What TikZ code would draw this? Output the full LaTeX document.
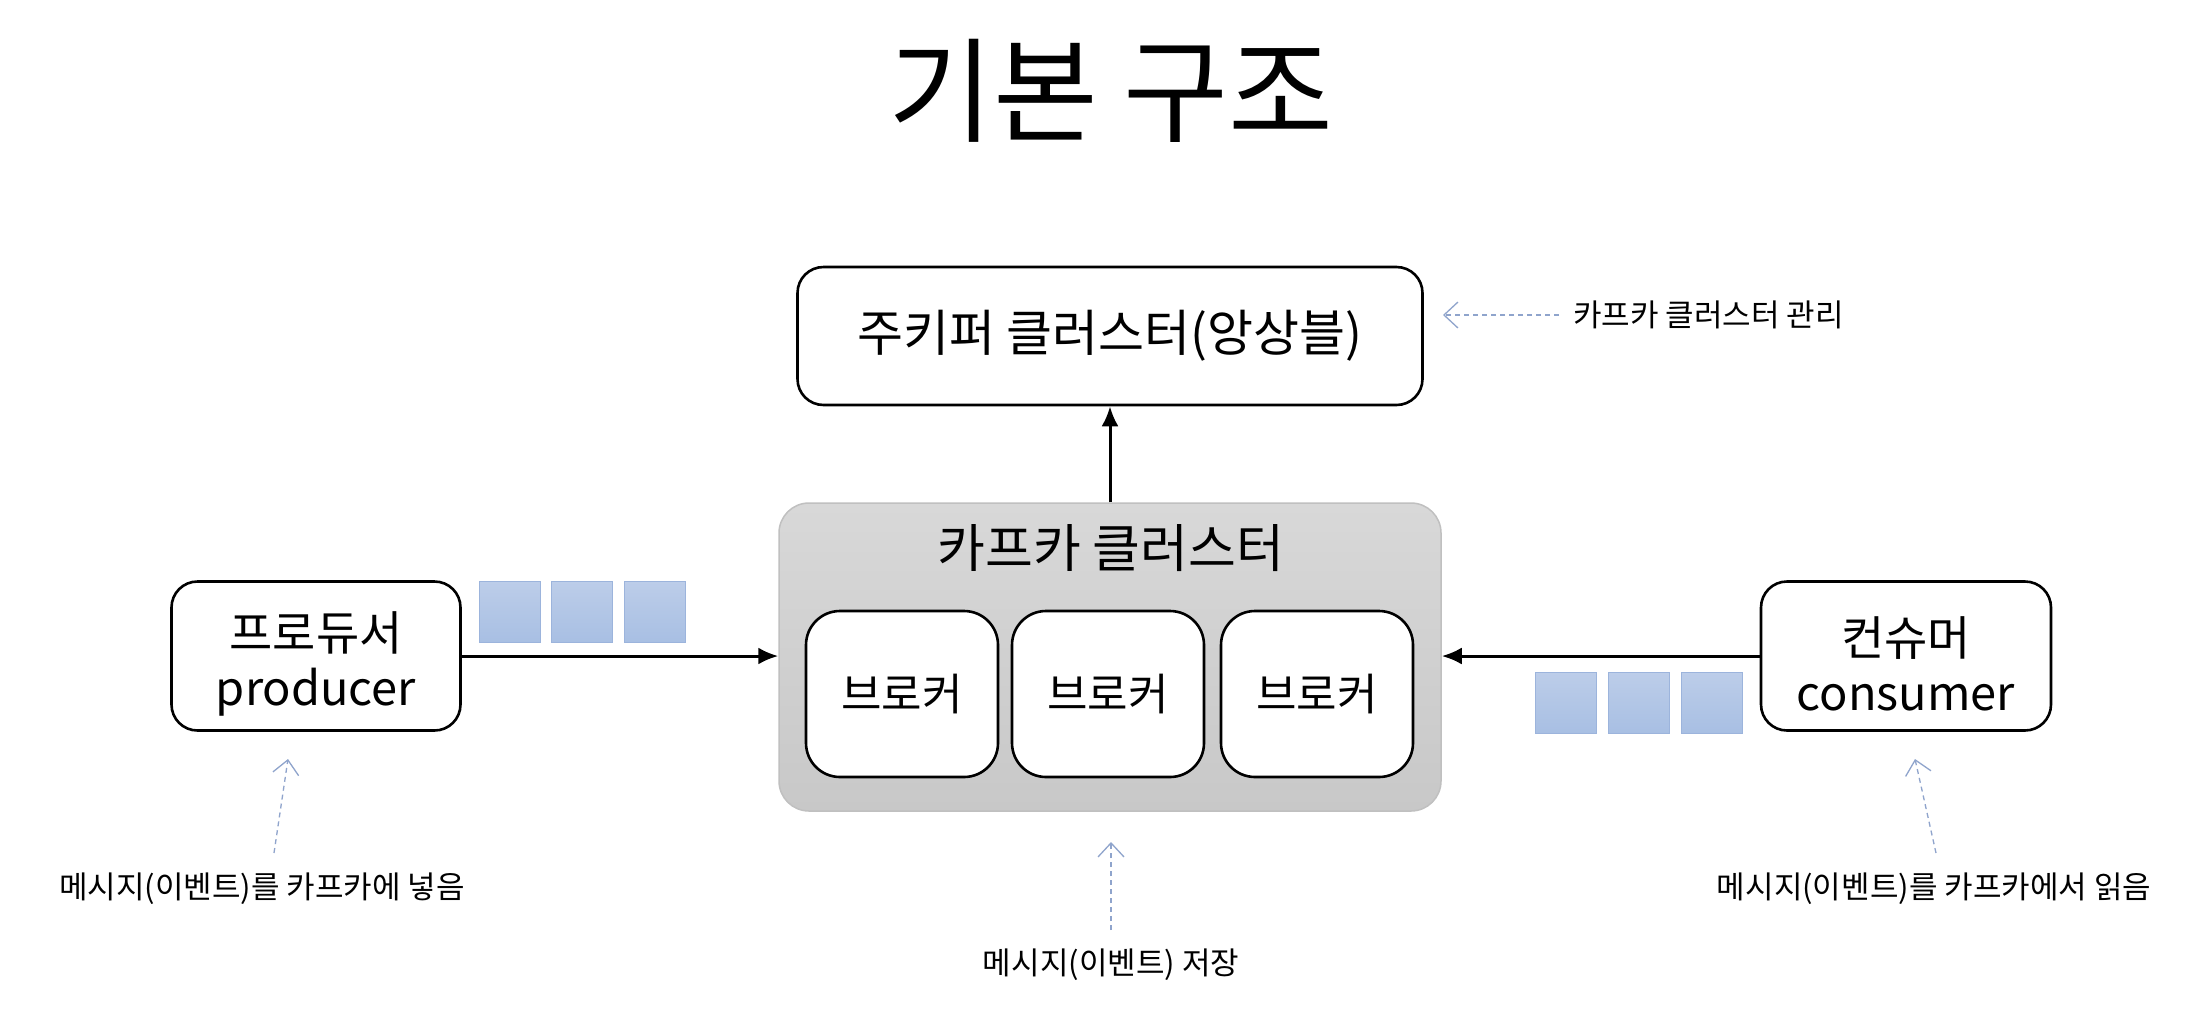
\documentclass[tikz,border=0pt]{standalone}
\usepackage{fontspec}
\newfontfamily\kr{Noto Sans CJK KR}
\usetikzlibrary{arrows.meta}
\definecolor{clfilltop}{HTML}{D8D8D8}
\definecolor{clfillbot}{HTML}{C8C8C8}
\definecolor{cldraw}{HTML}{C0C0C0}
\definecolor{sqtop}{HTML}{BCCDE9}
\definecolor{sqbot}{HTML}{A8BFE3}
\definecolor{sqdraw}{HTML}{9CB4DC}
\definecolor{notec}{HTML}{8FA4CC}
\tikzset{
  box/.style={draw=black, line width=2.6pt, fill=white, rounded corners=26pt, inner sep=0pt, font=\kr\fontsize{47}{55}\selectfont, align=center},
  brokerbox/.style={box, minimum width=192pt, minimum height=166pt, rounded corners=34pt, font=\kr\fontsize{44}{50}\selectfont},
  cluster/.style={draw=cldraw, line width=1.5pt, top color=clfilltop, bottom color=clfillbot, rounded corners=30pt, inner sep=0pt},
  msg/.style={draw=sqdraw, line width=1pt, top color=sqtop, bottom color=sqbot, minimum size=61pt, inner sep=0pt},
  flow/.style={line width=3pt, -{Latex[length=20pt,width=17pt]}},
  notearrow/.style={draw=notec, line width=1.3pt, dash pattern=on 5pt off 4pt, -{Straight Barb[length=14pt,width=26pt,line width=1.3pt]}},
  notetext/.style={font=\kr\fontsize{31}{36}\selectfont, inner sep=0pt},
}
\begin{document}
\begin{tikzpicture}[x=1pt,y=-1pt]
\useasboundingbox[fill=white] (0,0) rectangle (2192,1026);

\node[font=\kr\fontsize{114}{120}\selectfont, inner sep=0pt] (title) at (1111,91) {기본 구조};

\node[box, minimum width=625pt, minimum height=138pt, font=\kr\fontsize{50}{58}\selectfont] (zk) at (1110,336) {주키퍼 클러스터(앙상블)};

\node[cluster, minimum width=662pt, minimum height=308pt] (kc) at (1110,657) {};
\node[font=\kr\fontsize{52}{56}\selectfont, inner sep=0pt] (kct) at (1111,548) {카프카 클러스터};
\node[brokerbox] (b1) at (902,694) {브로커};
\node[brokerbox] (b2) at (1108,694) {브로커};
\node[brokerbox] (b3) at (1317,694) {브로커};

\node[box, minimum width=289pt, minimum height=149pt] (prod) at (316,656) {};
\node[box, minimum width=290pt, minimum height=149pt] (cons) at (1906,656) {};
\node[font=\kr\fontsize{47}{55}\selectfont, align=center, inner sep=0pt] (prodt) at (316,664) {프로듀서\\producer};
\node[font=\kr\fontsize{47}{55}\selectfont, align=center, inner sep=0pt] (const) at (1906,664) {컨슈머\\consumer};

\node[msg] (m1) at (510,612) {};
\node[msg] (m2) at (582,612) {};
\node[msg] (m3) at (655,612) {};
\node[msg] (m4) at (1566,703) {};
\node[msg] (m5) at (1639,703) {};
\node[msg] (m6) at (1712,703) {};

\draw[flow] (prod.east) -- (kc.west |- prod.east);
\draw[flow] (cons.west) -- (kc.east |- cons.west);
\draw[flow] (kc.north) -- (zk.south);

\node[notetext, anchor=west] (n1) at (1573,315) {카프카 클러스터 관리};
\node[notetext] (n2) at (262,889) {메시지(이벤트)를 카프카에 넣음};
\node[notetext] (n3) at (1111,965) {메시지(이벤트) 저장};
\node[notetext] (n4) at (1934,889) {메시지(이벤트)를 카프카에서 읽음};

\coordinate (a1s) at (1559,315);
\coordinate (a1e) at (1443,315);
\coordinate (a2s) at (274,853);
\coordinate (a2e) at (288,759);
\coordinate (a3s) at (1111,930);
\coordinate (a3e) at (1111,842);
\coordinate (a4s) at (1936,853);
\coordinate (a4e) at (1915,759);
\draw[notearrow] (a1s) -- (a1e);
\draw[notearrow] (a2s) -- (a2e);
\draw[notearrow] (a3s) -- (a3e);
\draw[notearrow] (a4s) -- (a4e);
\end{tikzpicture}
\end{document}
